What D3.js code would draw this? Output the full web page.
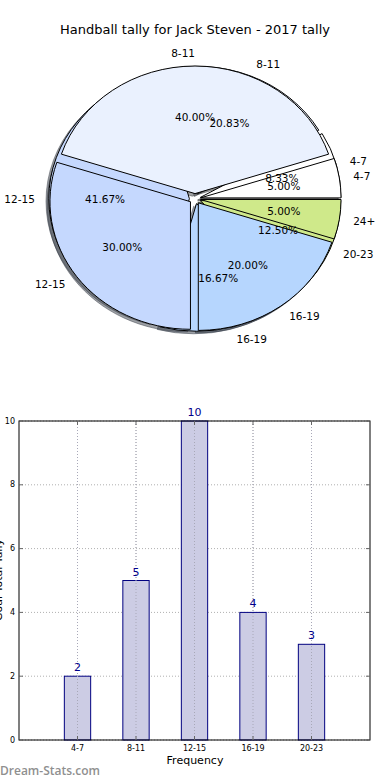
<!DOCTYPE html>
<html><head><meta charset="utf-8">
<script src="https://cdn.jsdelivr.net/npm/d3@7"></script>
<style>
html,body{margin:0;padding:0;background:#fff;}
svg{display:block;font-family:"DejaVu Sans",sans-serif;}
</style></head>
<body><svg id="c" width="390" height="780"></svg>
<script>
// ---- data ----
const titleText = "Handball tally for Jack Steven - 2017 tally";
const pieBackLabels = ["4-7","8-11","12-15","16-19","20-23"];
const pieBackValues = [2,5,10,4,3];
const pieFrontLabels = ["4-7","8-11","12-15","16-19","24+"];
const pieFrontValues = [1,8,6,4,1];
const pieColors = ["#ffffff","#eaf1fe","#c5d8fe","#b6d6fe","#cfe98a"];
const barCategories = ["4-7","8-11","12-15","16-19","20-23"];
const barValues = [2,5,10,4,3];
const yTicks = [0,2,4,6,8,10];
const xLabel = "Frequency";
const yLabel = "Goal Total Tally";
const watermark = "Dream-Stats.com";

const svg = d3.select("#c");

// title
svg.append("text").attr("x",195).attr("y",34).attr("text-anchor","middle")
  .attr("font-size",13).attr("fill","#000").text(titleText);

// ---- pie ----
const cx = 195, cy = 198.7, rx = 140.5, ry = 127.6, explode = 0.04;
const pieGen = d3.pie().sort(null).startAngle(Math.PI/2).endAngle(Math.PI/2 - 2*Math.PI);
const arcGen = d3.arc().innerRadius(0).outerRadius(1);
const pies = [
  {labels: pieBackLabels, values: pieBackValues},
  {labels: pieFrontLabels, values: pieFrontValues}
];
const pieG = svg.append("g");
const shadowG = pieG.append("g");
const wedgeG = pieG.append("g");
const textG = pieG.append("g");

function shade(c){ const r = d3.rgb(c); return d3.rgb(r.r*0.3, r.g*0.3, r.b*0.3).toString(); }

pies.forEach(p => {
  const arcs = pieGen(p.values);
  const total = d3.sum(p.values);
  arcs.forEach((a,i) => {
    const m = (a.startAngle + a.endAngle)/2;
    const ux = Math.sin(m), uy = -Math.cos(m);
    const ex = explode*ux, ey = explode*uy;
    // shadow
    shadowG.append("g")
      .attr("transform",`translate(${cx},${cy}) scale(${rx},${ry}) translate(${ex-0.02},${ey+0.02})`)
      .append("path").attr("d",arcGen(a))
      .attr("fill",shade(pieColors[i])).attr("fill-opacity",0.5)
      .attr("stroke",shade(pieColors[i])).attr("stroke-opacity",0.5)
      .attr("stroke-width",1).attr("vector-effect","non-scaling-stroke");
    wedgeG.append("g")
      .attr("transform",`translate(${cx},${cy}) scale(${rx},${ry}) translate(${ex},${ey})`)
      .append("path").attr("d",arcGen(a))
      .attr("fill",pieColors[i]).attr("stroke","#000").attr("stroke-width",1)
      .attr("vector-effect","non-scaling-stroke");
    // label
    const lx = cx + rx*(ex + 1.1*ux), ly = cy + ry*(ey + 1.1*uy);
    textG.append("text").attr("x",lx).attr("y",ly)
      .attr("text-anchor", ux > 1e-6 ? "start" : "end")
      .attr("dominant-baseline","central").attr("font-size",10.5).attr("fill","#000")
      .text(p.labels[i]);
    const px = cx + rx*(ex + 0.6*ux), py = cy + ry*(ey + 0.6*uy);
    textG.append("text").attr("x",px).attr("y",py)
      .attr("text-anchor","middle").attr("dominant-baseline","central")
      .attr("font-size",10.5).attr("fill","#000")
      .text(d3.format(".2f")(100*p.values[i]/total) + "%");
  });
});

// ---- bar chart ----
const L = 19, R = 370, T = 421, B = 740;
const x = d3.scaleLinear().domain([0, barCategories.length+1]).range([L,R]);
const y = d3.scaleLinear().domain([0,10]).range([B,T]);
const barW = 0.45;
const bg = svg.append("g");

// grid
bg.append("g").selectAll("line").data(yTicks).join("line")
  .attr("x1",L).attr("x2",R).attr("y1",d=>y(d)).attr("y2",d=>y(d))
  .attr("stroke","#b0b0b0").attr("stroke-width",1).attr("stroke-dasharray","1,2");
bg.append("g").selectAll("line").data(barCategories).join("line")
  .attr("x1",(d,i)=>x(i+1)).attr("x2",(d,i)=>x(i+1)).attr("y1",T).attr("y2",B)
  .attr("stroke","#b0b0b0").attr("stroke-width",1).attr("stroke-dasharray","1,2");

// bars
bg.append("g").selectAll("rect").data(barValues).join("rect")
  .attr("x",(d,i)=>x(i+1-barW/2)).attr("width",x(barW)-x(0))
  .attr("y",d=>y(d)).attr("height",d=>B-y(d))
  .attr("fill","#ccccE4").attr("stroke","#000080").attr("stroke-width",1);

// grid over bars (matplotlib grid on top)
bg.append("g").selectAll("line").data(barCategories).join("line")
  .attr("x1",(d,i)=>x(i+1)).attr("x2",(d,i)=>x(i+1)).attr("y1",T).attr("y2",B)
  .attr("stroke","#a8a8b8").attr("stroke-width",1).attr("stroke-dasharray","1,2");

// value labels
bg.append("g").selectAll("text").data(barValues).join("text")
  .attr("x",(d,i)=>x(i+1)).attr("y",d=>y(d)-5)
  .attr("text-anchor","middle").attr("font-size",11).attr("fill","#00008b")
  .text(d=>d);

// frame
bg.append("rect").attr("x",L).attr("y",T).attr("width",R-L).attr("height",B-T)
  .attr("fill","none").attr("stroke","#000").attr("stroke-width",1);

// ticks (inward) on both sides
bg.append("g").selectAll("path").data(yTicks).join("path")
  .attr("d",d=>`M${L},${y(d)}h4M${R},${y(d)}h-4`).attr("stroke","#666").attr("stroke-width",1);
bg.append("g").selectAll("path").data(barCategories).join("path")
  .attr("d",(d,i)=>`M${x(i+1)},${B}v-4M${x(i+1)},${T}v4`).attr("stroke","#666").attr("stroke-width",1);

// tick labels
bg.append("g").selectAll("text").data(yTicks).join("text")
  .attr("x",L-4).attr("y",d=>y(d)).attr("text-anchor","end").attr("dominant-baseline","central")
  .attr("font-size",8).attr("fill","#000").text(d=>d);
bg.append("g").selectAll("text").data(barCategories).join("text")
  .attr("x",(d,i)=>x(i+1)).attr("y",B+11).attr("text-anchor","middle")
  .attr("font-size",8).attr("fill","#000").text(d=>d);

// axis labels
bg.append("text").attr("x",195).attr("y",764).attr("text-anchor","middle")
  .attr("font-size",11).attr("fill","#000").text(xLabel);
bg.append("text").attr("transform","translate(1.5,580) rotate(-90)").attr("text-anchor","middle")
  .attr("font-size",11).attr("fill","#000").text(yLabel);

// watermark
svg.append("text").attr("x",0).attr("y",775).attr("font-family","'Open Sans',sans-serif")
  .attr("font-weight",600).attr("font-size",12).attr("fill","#8f8f8f").text(watermark);
</script></body></html>
